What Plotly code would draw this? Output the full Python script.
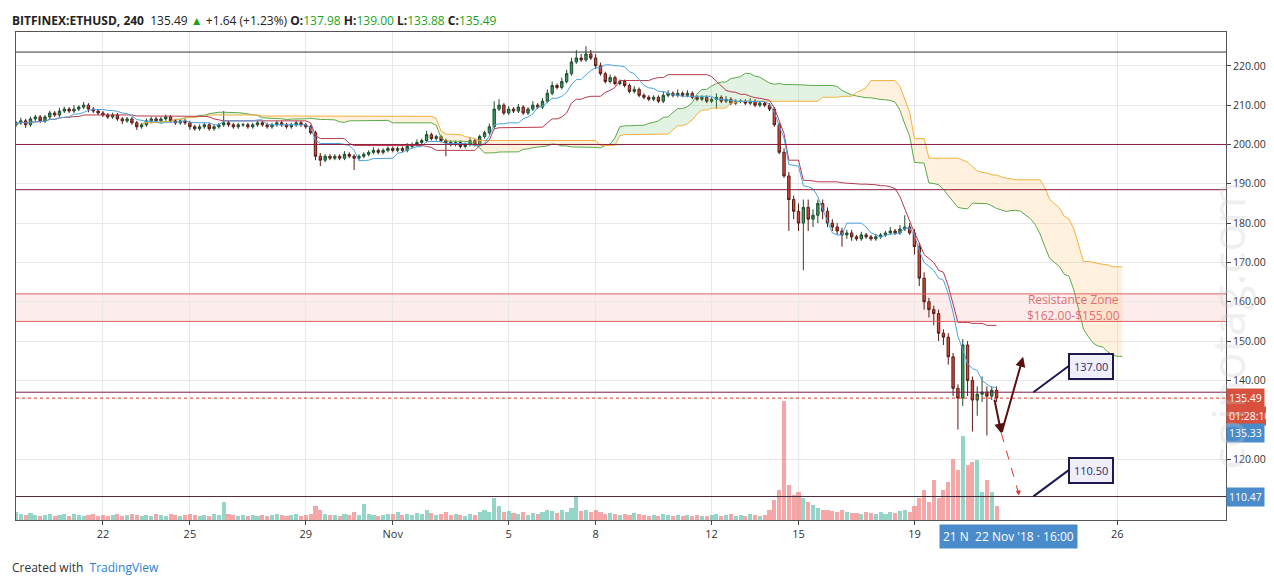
import numpy as np, pandas as pd
import plotly.graph_objects as go

closes = [
205.5,206,205,206.5,207,206, 207,208,207.5,208.5,209,208.5, 209,209.5,210,209,208.5,208,
207.5,207,207.5,206.5,206,206.5, 205.5,204.5,205,206,206.5,206, 206.5,207,206,205.5,206,205.5,
204.5,204,204.5,205,204,204.5, 205,205.5,205,204.5,205,205, 204.5,205,205.5,205,204.5,205,
205.5,205,204.5,205,205.5,205, 204.5,203,197,196,197,196.5, 197,196.5,197.5,197,196.5,197,
197.5,198,198.5,198,198.5,199, 198.5,199,198.5,199.5,200,200.5, 201,202.5,201.5,202,201,200.5,
200,200.5,199.5,200,201,200, 202,203,204.5,209,210,208, 209,208.5,209.5,208,209,210,
209.5,211,213,215,214.5,216, 218,221,222,221.5,223,222, 220,218,216,217,215.5,216,
215,213.5,214,212.5,212,211.5, 212,211,212.5,213,212.5,213, 212.5,213,212,211.5,212,211,
211.5,212,211,211.5,210.5,211, 211,210.5,211,210,210.5,210, 209,205,198,192,186,183,
180,184,181,182,185,183, 180,179,178,177,177.5,176.5, 176,177,176.5,176,176.5,177,
177.5,178,177.5,178.5,179,177.5, 174,166,160,158,157,152, 151,146,138,135.5,149,140,
135,136.5,137,136,137.5,135.5]
wick_up = [
.5,.8,.5,.6,.5,.5, .5,.6,.5,.8,.6,.5, 1,.5,.8,.5,.5,.5, .5,.5,.6,.5,.5,.5, .5,.5,.5,.6,.5,.5,
.5,.6,.5,.5,.5,.5, .5,.5,.6,.5,.5,.5, .5,3,.5,.5,.5,.5, .5,.5,.5,.5,.5,.5, .5,.5,.5,.5,.5,.5,
.5,.5,.5,.8,.5,.5, .5,.5,.8,.5,.5,.5, .5,.5,.8,.5,.5,.5, .5,.5,.5,.8,.5,.8, .5,1,.5,.5,.5,.5,
.5,.5,.5,.5,.8,.5, .5,.5,.8,2,1.5,.5, .8,.5,.8,.5,.5,1, .5,.8,1,1,.5,1, 1,1,2,1,2,1,
1,.8,.5,.8,.5,.5, .5,.5,.8,.5,.5,.5, .5,.5,1,.8,.5,1, .5,.8,.5,.5,.5,.5, .5,1,.5,.8,.5,.5,
.5,.5,.8,.5,.5,.5, .5,.5,.5,1,1,1, 2,2,2,1.5,1,1, 1,1,1,.8,.8,.8, .5,.8,.5,.5,.8,.5,
.5,1,.5,1,3,1, 1,1,1.5,1,1,1, 1,1,1,1,1.5,1, 1,2,4,1.5,1,1]
wick_dn = [
.5,.5,.8,.5,.5,.5, .5,.5,.5,.5,.5,.5, .5,.5,.5,.8,.5,.5, .5,.5,.5,.5,.8,.5, .5,.8,.5,.5,.5,.5,
.5,.5,.5,.5,.5,.5, .8,.5,.5,.5,.5,.5, .5,.5,.5,.5,.5,.5, .5,.5,.5,.5,.5,.5, .5,.5,.5,.5,.5,.5,
.5,.5,1,1.5,.5,.5, .5,.5,.5,.5,3,.5, .5,.5,.5,.5,.5,.5, .5,.5,.5,.5,.5,.5, .5,.5,.5,.5,.5,3.5,
.5,.5,.5,.5,.5,.5, .5,.5,.5,.5,.5,.5, .5,.5,.5,.5,.5,.5, .5,.5,.5,.5,.5,.5, .5,.5,.5,.5,.5,.5,
.8,.5,.5,.5,.5,.5, .5,.5,.5,.5,.5,.5, .5,.5,.5,.5,.5,.5, .5,.5,.5,.5,.5,.5, .5,2.5,.5,.5,.5,.5,
.5,.5,.5,.5,.5,.5, .5,.5,.5,.5,8,2, 2,12,3,2,2,2, 1,1,1,3,1,1, .5,.5,.5,.5,.5,.5,
.5,.5,.5,.5,.5,.5, 2,2,2,2,3,2, 2,2,2,8,2,4, 8,4,2,10,1,1]
volumes = [
8,6,5,7,5,4, 5,6,4,5,6,4, 6,5,4,5,6,4, 5,4,5,6,4,5, 6,5,4,5,4,6, 5,4,6,5,4,5,
6,5,4,5,4,6, 5,18,6,5,4,5, 4,5,4,5,4,5, 6,5,4,5,6,4, 5,6,14,10,6,5, 5,4,6,5,8,5,
16,6,5,4,5,6, 6,8,5,6,5,7, 6,10,7,5,6,8, 5,6,5,4,6,5, 8,10,8,22,14,8, 9,7,6,8,5,7,
6,8,10,9,7,10, 8,12,24,9,10,8, 10,8,6,7,6,5, 6,5,7,6,5,4, 5,4,6,5,4,5, 4,5,4,5,4,4,
5,6,4,5,6,4, 5,4,6,5,4,5, 10,20,30,120,35,25, 28,22,18,15,12,10, 10,9,8,10,8,7, 7,6,8,7,6,8,
6,8,7,9,10,8, 14,22,30,18,40,22, 30,38,62,50,85,55, 58,60,28,40,28,14]

dates = pd.date_range('2018-10-19 00:00', periods=len(closes), freq='4h')
opens = [closes[0] - 0.5] + closes[:-1]
highs = [max(o, c) + w for o, c, w in zip(opens, closes, wick_up)]
lows = [min(o, c) - w for o, c, w in zip(opens, closes, wick_dn)]

df = pd.DataFrame(dict(o=opens, h=highs, l=lows, c=closes), index=dates)
tenkan = (df.h.rolling(9, min_periods=1).max() + df.l.rolling(9, min_periods=1).min()) / 2
kijun = (df.h.rolling(26, min_periods=1).max() + df.l.rolling(26, min_periods=1).min()) / 2
spanA = (tenkan + kijun) / 2
spanB = (df.h.rolling(52, min_periods=1).max() + df.l.rolling(52, min_periods=1).min()) / 2
fdates = pd.date_range(dates[0] + pd.Timedelta(hours=4 * 26), periods=len(closes), freq='4h')
A = spanA.values; B = spanB.values

fig = go.Figure()
vcol = ['rgba(90,190,170,0.65)' if c >= o else 'rgba(240,120,120,0.65)' for o, c in zip(opens, closes)]
fig.add_trace(go.Bar(x=dates, y=volumes, marker_color=vcol, marker_line_width=0, yaxis='y2', width=4*3600*1000*0.85))
fig.add_trace(go.Scatter(x=fdates, y=B, mode='lines', line=dict(width=0), hoverinfo='skip'))
fig.add_trace(go.Scatter(x=fdates, y=np.where(A > B, A, B), mode='lines', line=dict(width=0), fill='tonexty', fillcolor='rgba(100,190,100,0.18)'))
fig.add_trace(go.Scatter(x=fdates, y=B, mode='lines', line=dict(width=0), hoverinfo='skip'))
fig.add_trace(go.Scatter(x=fdates, y=np.where(B > A, A, B), mode='lines', line=dict(width=0), fill='tonexty', fillcolor='rgba(255,190,100,0.22)'))
fig.add_trace(go.Scatter(x=fdates, y=A, mode='lines', line=dict(color='#5aab4a', width=1)))
fig.add_trace(go.Scatter(x=fdates, y=B, mode='lines', line=dict(color='#f5b040', width=1)))
fig.add_trace(go.Scatter(x=dates, y=kijun.values, mode='lines', line=dict(color='#b83a4a', width=1)))
fig.add_trace(go.Scatter(x=dates, y=tenkan.values, mode='lines', line=dict(color='#4aa3df', width=1)))
fig.add_trace(go.Candlestick(x=dates, open=opens, high=highs, low=lows, close=closes,
    increasing=dict(fillcolor='#3c9a5f', line=dict(color='#1d4d2e', width=1)),
    decreasing=dict(fillcolor='#d24b3e', line=dict(color='#5a1a12', width=1)), whiskerwidth=0))

fig.add_hrect(y0=155, y1=162, fillcolor='rgba(250,200,200,0.35)', line_width=0, layer='below')
for y, col, dash in [(223.5, '#333', 'solid'), (200, '#8b1a3a', 'solid'), (188.5, '#8b1a3a', 'solid'),
                     (162, '#e06060', 'solid'), (155, '#e06060', 'solid'), (137, '#7a1a4a', 'solid'),
                     (135.49, '#e03020', 'dot'), (110.47, '#4a2a3a', 'solid')]:
    fig.add_hline(y=y, line=dict(color=col, width=1, dash=dash))

brown = '#5a0f0f'
fig.add_annotation(x='2018-11-22 00:00', y=126.5, ax='2018-11-21 18:00', ay=135.5, xref='x', yref='y', axref='x', ayref='y',
                   showarrow=True, arrowhead=2, arrowwidth=2, arrowcolor=brown, text='')
fig.add_annotation(x='2018-11-22 18:00', y=146, ax='2018-11-22 00:00', ay=126.5, xref='x', yref='y', axref='x', ayref='y',
                   showarrow=True, arrowhead=2, arrowwidth=2, arrowcolor=brown, text='')
fig.add_shape(type='line', x0='2018-11-22 00:00', y0=126.5, x1='2018-11-22 14:30', y1=111, line=dict(color='#e03030', width=1, dash='dash'))
fig.add_annotation(x='2018-11-22 14:30', y=110.7, ax='2018-11-22 14:00', ay=112, xref='x', yref='y', axref='x', ayref='y',
                   showarrow=True, arrowhead=2, arrowwidth=1, arrowcolor='#e03030', text='')
for y, t in [(137, '137.00'), (110.5, '110.50')]:
    fig.add_annotation(x='2018-11-23 02:30', y=y, text=t, showarrow=True, arrowhead=0, arrowwidth=2, arrowcolor='#1c1a4f',
                       ax=35, ay=-26, bgcolor='#f0eefa', bordercolor='#1c1a4f', borderwidth=2, borderpad=4,
                       font=dict(color='#2a2a6a', size=11), xanchor='left')
fig.add_annotation(x='2018-11-24 12:00', y=158.5, text='Resistance Zone<br>$162.00-$155.00', showarrow=False,
                   font=dict(color='#e07070', size=12))

for y, t, bg in [(135.49, '135.49', '#d9503f'), (130.9, '01:28:10', '#d9503f'), (126.5, '135.33', '#4a8ccb'), (110.47, '110.47', '#4a8ccb')]:
    fig.add_annotation(xref='paper', x=1.0, y=y, text=t, showarrow=False, xanchor='left', bgcolor=bg,
                       font=dict(color='white', size=10.5), borderpad=2)
fig.add_annotation(xref='paper', yref='paper', x=0.878, y=-0.008, text='21 N  22 Nov \'18 · 16:00', showarrow=False,
                   bgcolor='#4a8ccb', font=dict(color='white', size=12), borderpad=3, yanchor='top')
fig.add_annotation(xref='paper', yref='paper', x=-0.005, y=1.003, xanchor='left', yanchor='bottom', showarrow=False,
                   text="<b>BITFINEX:ETHUSD, 240</b>  135.49 <span style='color:#1aa31a'>▲</span> +1.64 (+1.23%) <b>O:</b><span style='color:#1aa31a'>137.98</span> <b>H:</b><span style='color:#1aa31a'>139.00</span> <b>L:</b><span style='color:#1aa31a'>133.88</span> <b>C:</b><span style='color:#1aa31a'>135.49</span>",
                   font=dict(size=12, color='#222'))
fig.add_annotation(xref='paper', yref='paper', x=-0.005, y=-0.075, xanchor='left', yanchor='top', showarrow=False,
                   text="Created with  <span style='color:#2a7fd0'>TradingView</span>", font=dict(size=12, color='#333'))
fig.add_annotation(xref='paper', yref='paper', x=1.028, y=0.4, showarrow=False, textangle=-90,
                   text='coinotag.com', font=dict(size=46, color='rgba(200,200,200,0.3)'))

tickv = ['2018-10-22', '2018-10-25', '2018-10-29', '2018-11-01', '2018-11-05', '2018-11-08', '2018-11-12', '2018-11-15', '2018-11-19', '2018-11-26']
tickt = ['22', '25', '29', 'Nov', '5', '8', '12', '15', '19', '26']
pt = [120, 140, 150, 160, 170, 180, 190, 200, 210, 220]
fig.update_layout(
    width=1274, height=578, margin=dict(l=8, r=56, t=24, b=66), paper_bgcolor='white', plot_bgcolor='white',
    showlegend=False, font=dict(family='Open Sans, sans-serif', size=11, color='#333'),
    xaxis=dict(range=['2018-10-19 00:00', '2018-11-29 18:00'], rangeslider=dict(visible=False), tickvals=tickv, ticktext=tickt,
               showgrid=True, gridcolor='#e8e8e8', showline=True, linecolor='#555', mirror=True, ticks='outside', ticklen=4),
    yaxis=dict(side='right', range=[104.5, 228.6], tickvals=pt, ticktext=[f'{v:.2f}' for v in pt],
               showgrid=True, gridcolor='#e8e8e8', showline=True, linecolor='#555', mirror=True, ticks='outside', ticklen=4,
               tickfont=dict(size=10.5)),
    yaxis2=dict(overlaying='y', range=[0, 492], visible=False),
    bargap=0,
)
fig.write_html('out.html')
